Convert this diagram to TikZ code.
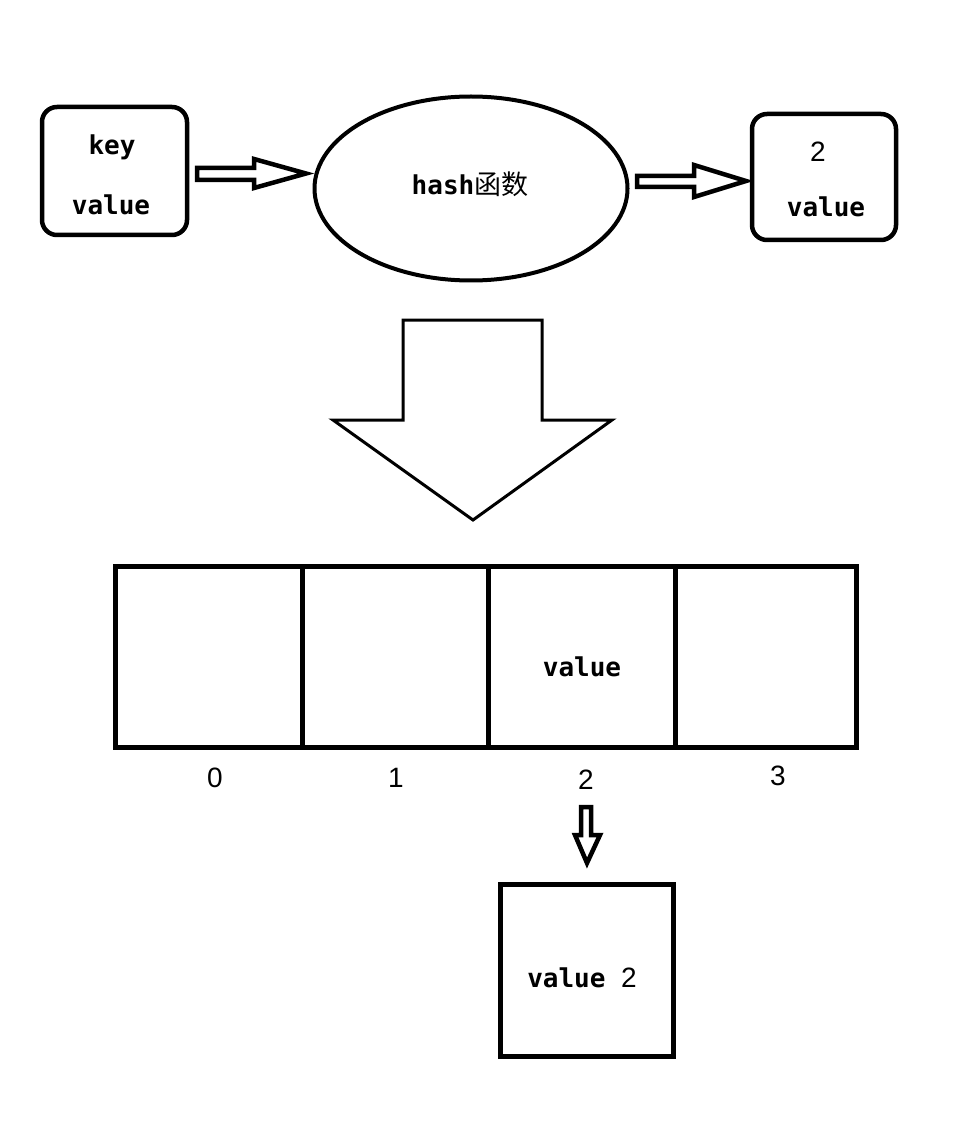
\documentclass[tikz,border=0pt]{standalone}
\usepackage{fontspec}
\usetikzlibrary{shapes.geometric}
\newfontfamily\monofnt{DejaVu Sans Mono}
\newfontfamily\cjkfnt{Noto Sans CJK SC}
\newfontfamily\arialfnt{Liberation Sans}
\newcommand{\wordfont}{\monofnt\bfseries\fontsize{26}{30}\selectfont}
\newcommand{\digitfont}{\arialfnt\mdseries\fontsize{28}{32}\selectfont}
\begin{document}
\begin{tikzpicture}[x=1pt,y=-1pt,
  roundbox/.style={draw,line width=4.5pt,rounded corners=15pt,inner sep=0pt,outer sep=0pt},
  plainbox/.style={draw,line width=5pt,inner sep=0pt,outer sep=0pt},
  blockarrow/.style={draw,line width=4.5pt,line join=miter,fill=white},
  bigarrow/.style={draw,line width=3pt,line join=miter,fill=white},
  word/.style={inner sep=0pt,anchor=base,font=\wordfont},
  digit/.style={inner sep=0pt,anchor=base,font=\digitfont}]
\useasboundingbox (0,0) rectangle (979,1131);
\fill[white] (0,0) rectangle (979,1131);

% top row
\node[roundbox,minimum width=145pt,minimum height=128pt] (kv) at (114.5,171) {};
\node[word] (kvkey) at (112,155) {key};
\node[word] (kvval) at (111,215) {value};

\node[draw,ellipse,line width=4pt,minimum width=313pt,minimum height=184pt,inner sep=0pt] (hash) at (471,188.5) {};
\node[inner sep=0pt,anchor=base] (hashtxt) at (470,195) {\wordfont hash\cjkfnt\mdseries\fontsize{27}{30}\selectfont 函数};

\node[roundbox,minimum width=144pt,minimum height=126pt] (iv) at (824,177) {};
\node[digit] (ividx) at (818,162) {2};
\node[word] (ivval) at (826,217) {value};

% block arrows of the top row
\draw[blockarrow] (197,168) -- (254,168) -- (254,159) -- (306,173.5) -- (254,188) -- (254,180) -- (197,180) -- cycle;
\draw[blockarrow] (637,176) -- (694,176) -- (694,165) -- (746,181) -- (694,197) -- (694,187) -- (637,187) -- cycle;

% big down arrow
\draw[bigarrow] (403,320) -- (542,320) -- (542,420) -- (612,420) -- (473,520) -- (333,420) -- (403,420) -- cycle;

% table
\node[plainbox,minimum width=187pt,minimum height=181pt] (c0) at (208.5,656.5) {};
\node[plainbox,minimum width=186pt,minimum height=181pt] (c1) at (395,656.5) {};
\node[plainbox,minimum width=187pt,minimum height=181pt] (c2) at (581.5,656.5) {};
\node[plainbox,minimum width=181pt,minimum height=181pt] (c3) at (765.5,656.5) {};
\node[word] (c2val) at (582,676) {value};

\node[digit] (l0) at (215,787) {0};
\node[digit] (l1) at (396,787) {1};
\node[digit] (l2) at (586,789) {2};
\node[digit] (l3) at (778,785) {3};

% small down arrow
\draw[blockarrow] (581,807) -- (591,807) -- (591,835) -- (600,835) -- (587,863) -- (575,835) -- (581,835) -- cycle;

% bucket box
\node[plainbox,minimum width=173pt,minimum height=172pt] (bucket) at (586.5,970) {};
\node[inner sep=0pt,anchor=base] (buckettxt) at (582,987) {\wordfont value {\digitfont 2}};
\end{tikzpicture}
\end{document}
